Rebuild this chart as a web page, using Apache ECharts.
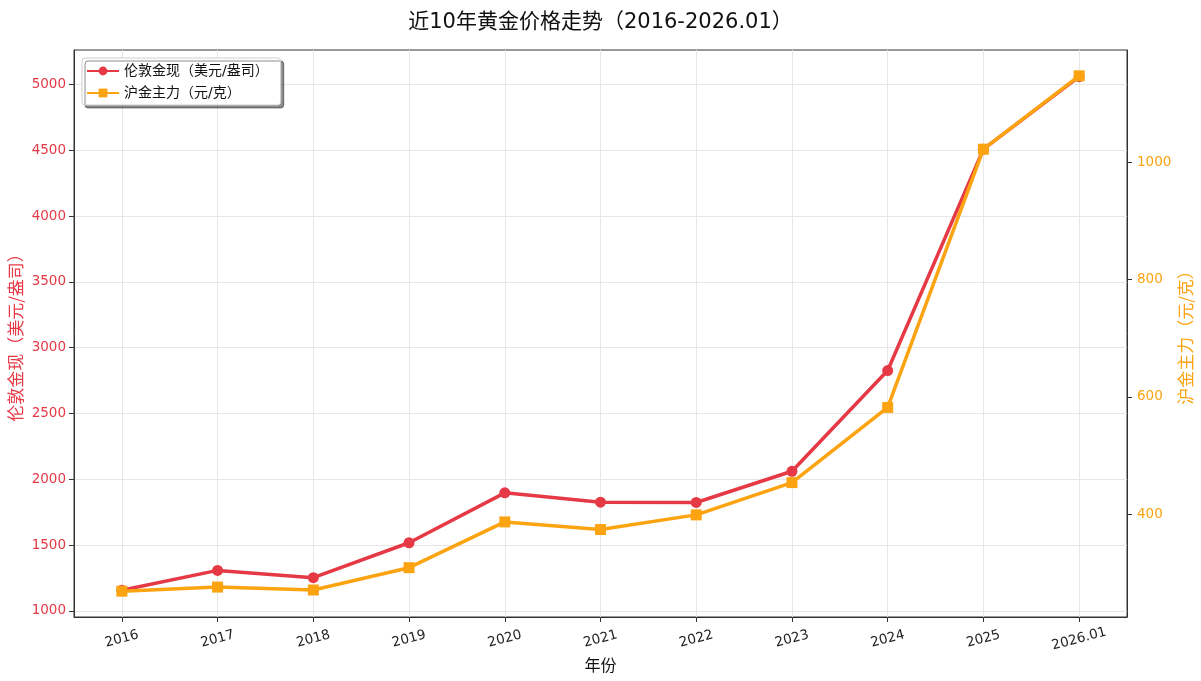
<!DOCTYPE html>
<html>
<head>
<meta charset="utf-8">
<script src="https://cdn.jsdelivr.net/npm/echarts@6/dist/echarts.min.js"></script>
<style>
html,body{margin:0;padding:0;background:#fff;}
#chart{width:1201px;height:681px;}
</style>
</head>
<body>
<div id="chart"></div>
<script>
const categories = ['2016','2017','2018','2019','2020','2021','2022','2023','2024','2025','2026.01'];
const londonGold = [1157, 1308, 1253, 1518, 1897, 1826, 1824, 2061, 2826, 4508, 5058];
const shfeGold = [269, 276, 271, 309, 387, 374, 399, 454, 582, 1022, 1147];
const leftTicks = [1000, 1500, 2000, 2500, 3000, 3500, 4000, 4500, 5000];
const rightTicks = [400, 600, 800, 1000];

const RED = '#e63946';
const ORANGE = '#fca311';
const FONT = '"DejaVu Sans", "Noto Sans CJK SC", sans-serif';
const CJK = '"Noto Sans CJK SC", "DejaVu Sans", sans-serif';
const idx = categories.map((c, i) => i);

const chart = echarts.init(document.getElementById('chart'), null, {renderer: 'canvas'});
chart.setOption({
  backgroundColor: '#fff',
  animation: false,
  textStyle: {fontFamily: FONT},
  title: {
    text: '近10年黄金价格走势（2016-2026.01）',
    left: 'center', top: 7,
    textStyle: {fontSize: 21, fontWeight: 'normal', color: '#111', fontFamily: FONT}
  },
  legend: {
    left: 82, top: 58, orient: 'vertical',
    itemGap: 8, itemWidth: 32, itemHeight: 11,
    padding: [6, 12, 5, 4],
    backgroundColor: '#fff', borderColor: '#cfcfcf', borderWidth: 1, borderRadius: 3,
    shadowColor: 'rgba(0,0,0,0.45)', shadowBlur: 0, shadowOffsetX: 3, shadowOffsetY: 3,
    textStyle: {fontSize: 14, color: '#111', fontFamily: FONT},
    data: ['伦敦金现（美元/盎司）', '沪金主力（元/克）']
  },
  grid: {left: 74, right: 74, top: 50, bottom: 64, outerBoundsMode: 'none', containLabel: false,
         show: true, borderColor: '#333', borderWidth: 1, backgroundColor: 'transparent'},
  xAxis: {
    type: 'value', min: -0.5, max: categories.length - 0.5,
    name: '年份', nameLocation: 'middle', nameGap: 40, nameMoveOverlap: false,
    nameTextStyle: {fontSize: 16, color: '#111', fontFamily: CJK},
    axisLine: {show: true, onZero: false, lineStyle: {color: '#333', width: 1}},
    axisTick: {show: true, length: 5, lineStyle: {color: '#333'}, customValues: idx},
    axisLabel: {
      customValues: idx, formatter: v => categories[Math.round(v)],
      rotate: 15, align: 'center', verticalAlign: 'middle', margin: 22,
      fontSize: 13.5, color: '#222', fontFamily: FONT
    },
    splitLine: {show: true, lineStyle: {color: '#e6e6e6', width: 1}}
  },
  yAxis: [
    {
      type: 'value', min: 954, max: 5261, position: 'left',
      name: '伦敦金现（美元/盎司）', nameLocation: 'middle', nameGap: 50, nameRotate: 90, nameMoveOverlap: false,
      nameTextStyle: {fontSize: 17, color: RED, fontFamily: CJK},
      axisLine: {show: true, onZero: false, lineStyle: {color: '#333'}},
      axisTick: {show: true, length: 5, lineStyle: {color: '#333'}, customValues: leftTicks},
      axisLabel: {customValues: leftTicks, margin: 8, fontSize: 13.5, color: RED, fontFamily: FONT,
                  formatter: v => String(Math.round(v))},
      splitLine: {show: true, lineStyle: {color: '#e6e6e6', width: 1}}
    },
    {
      type: 'value', min: 225, max: 1191, position: 'right',
      name: '沪金主力（元/克）', nameLocation: 'middle', nameGap: 50, nameRotate: 90, nameMoveOverlap: false,
      nameTextStyle: {fontSize: 17, color: ORANGE, fontFamily: CJK},
      axisLine: {show: true, onZero: false, lineStyle: {color: '#333'}},
      axisTick: {show: true, length: 5, lineStyle: {color: '#333'}, customValues: rightTicks},
      axisLabel: {customValues: rightTicks, margin: 10, fontSize: 13.5, color: ORANGE, fontFamily: FONT,
                  formatter: v => String(Math.round(v))},
      splitLine: {show: false}
    }
  ],
  series: [
    {
      name: '伦敦金现（美元/盎司）', type: 'line', yAxisIndex: 0,
      data: londonGold.map((v, i) => [i, v]),
      symbol: 'circle', symbolSize: 11, showAllSymbol: true,
      lineStyle: {color: RED, width: 3.5},
      itemStyle: {color: RED}, z: 2
    },
    {
      name: '沪金主力（元/克）', type: 'line', yAxisIndex: 1,
      data: shfeGold.map((v, i) => [i, v]),
      symbol: 'rect', symbolSize: 11, showAllSymbol: true,
      lineStyle: {color: ORANGE, width: 3.5},
      itemStyle: {color: ORANGE}, z: 3
    }
  ]
});
</script>
</body>
</html>
